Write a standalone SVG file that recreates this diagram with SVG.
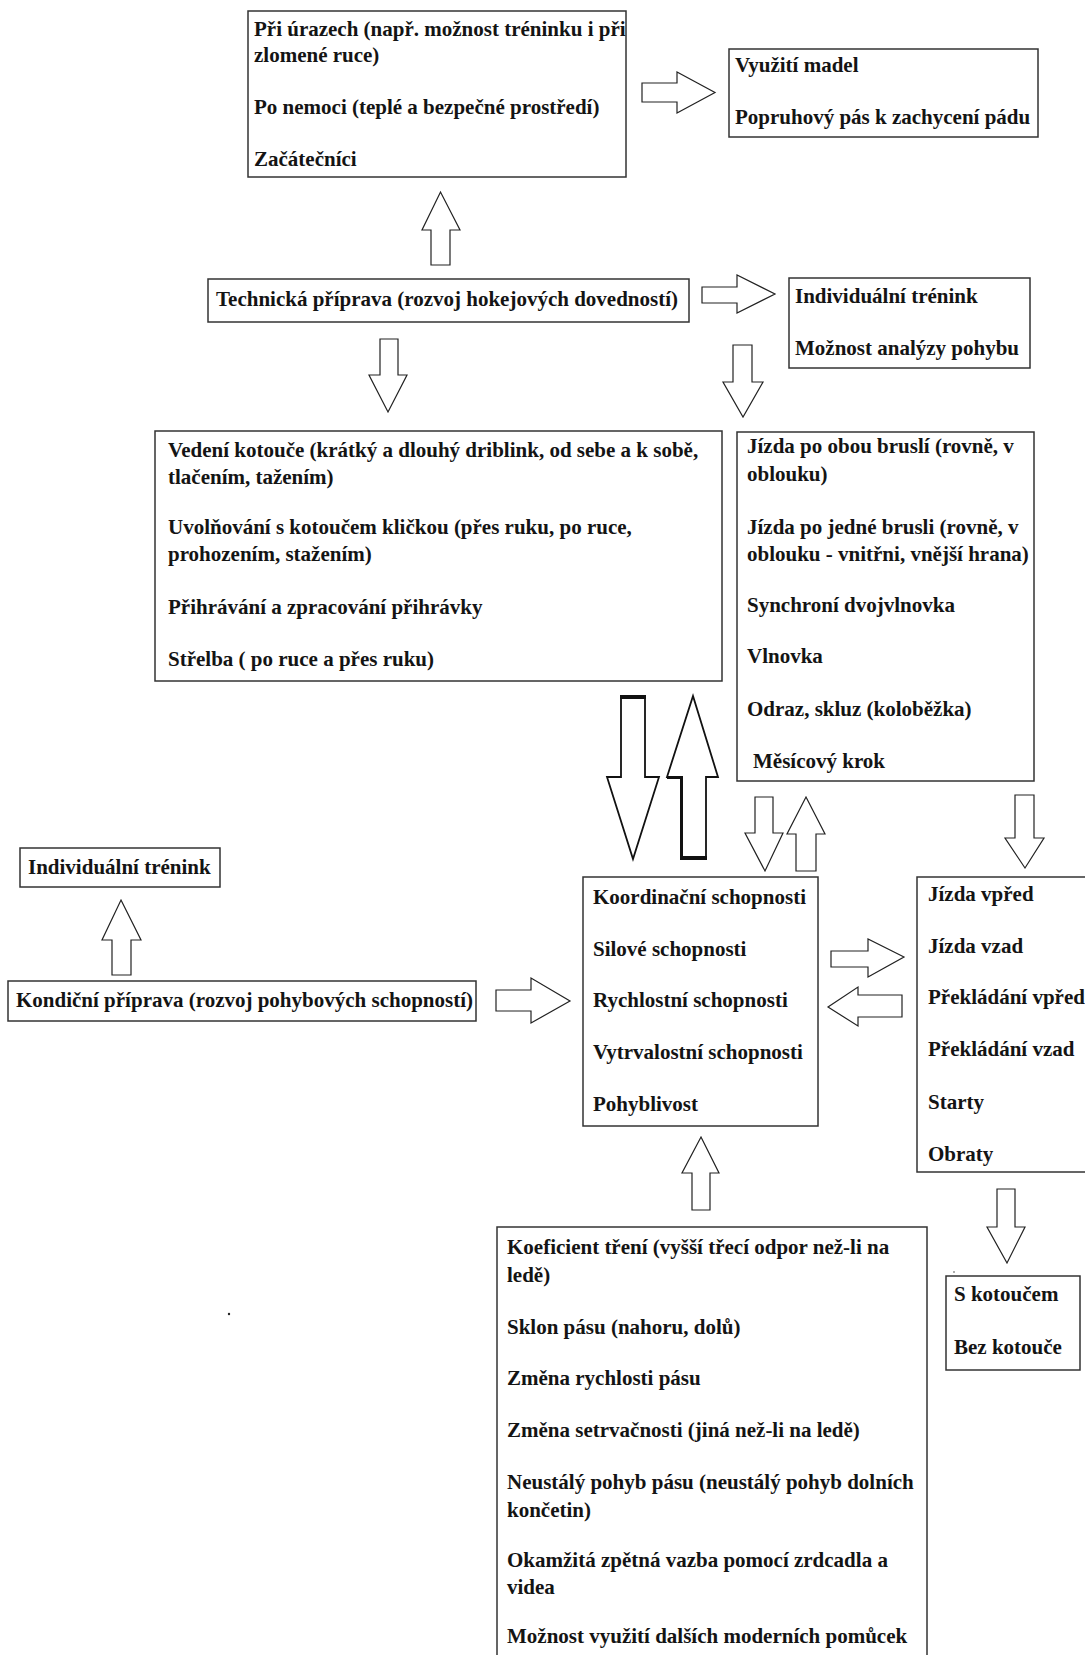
<svg xmlns="http://www.w3.org/2000/svg" width="1085" height="1655" viewBox="0 0 1085 1655">
<style>
.box{fill:#fff;stroke:#333;stroke-width:1.5}
.t{font-family:"Liberation Serif","Times New Roman",serif;font-weight:bold;font-size:21px;fill:#141414}
.arr{fill:#fff;stroke:#222;stroke-width:1.2;stroke-linejoin:miter}
.big{fill:#fff;stroke:#111;stroke-width:1.8}
.thick{stroke:#111;fill:none}
</style>
<rect x="0" y="0" width="1085" height="1655" fill="#fff"/>
<g id="connectors">
<polygon class="arr" points="642,83 677,83 677,72 715,92.5 677,113 677,102 642,102"/>
<polygon class="arr" points="431,265 431,230 422,230 440.5,192 460,230 450,230 450,265"/>
<polygon class="arr" points="702,287 737,287 737,275 775,294 737,313 737,303 702,303"/>
<polygon class="arr" points="380,339 398,339 398,375 407,375 388,412 369,375 380,375"/>
<polygon class="arr" points="733,345 752,345 752,382 763,382 743,417 723,382 733,382"/>
<polygon class="big" points="621,696 645,696 645,777 659,777 633,859 607,777 621,777"/>
<line class="thick" x1="620" y1="697" x2="646" y2="697" stroke-width="4"/>
<polygon class="big" points="693,696 718,777 706,777 706,859 681,859 681,777 667,777"/>
<line class="thick" x1="680" y1="858" x2="707" y2="858" stroke-width="4"/>
<polyline class="thick" points="667,777.5 681.5,777.5 681.5,859" stroke-width="3"/>
<polygon class="arr" points="755,797 773,797 773,833 783,833 765,871 745,833 755,833"/>
<polygon class="arr" points="806,797 825,834 816,834 816,871 796,871 796,834 787,834"/>
<polygon class="arr" points="1015,795 1034,795 1034,838 1044,838 1025,868 1005,838 1015,838"/>
<polygon class="arr" points="831,951 868,951 868,939 904,957 868,977 868,967 831,967"/>
<polygon class="arr" points="902,995 858,995 858,987 828,1007 858,1026 858,1017 902,1017"/>
<polygon class="arr" points="997,1189 1015,1189 1015,1227 1025,1227 1007,1263 987,1227 997,1227"/>
<polygon class="arr" points="701,1137 719,1173 710,1173 710,1210 692,1210 692,1173 682,1173"/>
<polygon class="arr" points="496,990 531,990 531,978 570,1001 531,1023 531,1011 496,1011"/>
<polygon class="arr" points="121,900 141,940 131,940 131,975 112,975 112,940 102,940"/>
</g>
<g id="n-urazy">
<rect class="box" x="248" y="11" width="378" height="166"/>
<text class="t" x="254" y="36">Při úrazech (např. možnost tréninku i při</text>
<text class="t" x="254" y="62">zlomené ruce)</text>
<text class="t" x="254" y="114">Po nemoci (teplé a bezpečné prostředí)</text>
<text class="t" x="254" y="166">Začátečníci</text>
</g>
<g id="n-madla">
<rect class="box" x="729" y="49" width="309" height="88"/>
<text class="t" x="735" y="72">Využití madel</text>
<text class="t" x="735" y="124">Popruhový pás k zachycení pádu</text>
</g>
<g id="n-technicka">
<rect class="box" x="208" y="279" width="481" height="43"/>
<text class="t" x="216" y="306">Technická příprava (rozvoj hokejových dovedností)</text>
</g>
<g id="n-individualni-1">
<rect class="box" x="789" y="278" width="241" height="90"/>
<text class="t" x="795" y="303">Individuální trénink</text>
<text class="t" x="795" y="355">Možnost analýzy pohybu</text>
</g>
<g id="n-kotouc">
<rect class="box" x="155" y="431" width="567" height="250"/>
<text class="t" x="168" y="457">Vedení kotouče (krátký a dlouhý driblink, od sebe a k sobě,</text>
<text class="t" x="168" y="484">tlačením, tažením)</text>
<text class="t" x="168" y="534">Uvolňování s kotoučem kličkou (přes ruku, po ruce,</text>
<text class="t" x="168" y="561">prohozením, stažením)</text>
<text class="t" x="168" y="614">Přihrávání a zpracování přihrávky</text>
<text class="t" x="168" y="666">Střelba ( po ruce a přes ruku)</text>
</g>
<g id="n-jizda">
<rect class="box" x="737" y="432" width="297" height="349"/>
<text class="t" x="747" y="453">Jízda po obou bruslí (rovně, v</text>
<text class="t" x="747" y="481">oblouku)</text>
<text class="t" x="747" y="534">Jízda po jedné brusli (rovně, v</text>
<text class="t" x="747" y="561">oblouku - vnitřni, vnější hrana)</text>
<text class="t" x="747" y="612">Synchroní dvojvlnovka</text>
<text class="t" x="747" y="663">Vlnovka</text>
<text class="t" x="747" y="716">Odraz, skluz (koloběžka)</text>
<text class="t" x="753" y="768">Měsícový krok</text>
</g>
<g id="n-individualni-2">
<rect class="box" x="20" y="848" width="200" height="39"/>
<text class="t" x="28" y="874">Individuální trénink</text>
</g>
<g id="n-kondicni">
<rect class="box" x="8" y="981" width="468" height="40"/>
<text class="t" x="16" y="1007">Kondiční příprava (rozvoj pohybových schopností)</text>
</g>
<g id="n-schopnosti">
<rect class="box" x="583" y="877" width="235" height="249"/>
<text class="t" x="593" y="904">Koordinační schopnosti</text>
<text class="t" x="593" y="956">Silové schopnosti</text>
<text class="t" x="593" y="1007">Rychlostní schopnosti</text>
<text class="t" x="593" y="1059">Vytrvalostní schopnosti</text>
<text class="t" x="593" y="1111">Pohyblivost</text>
</g>
<g id="n-smery">
<rect class="box" x="917" y="877" width="200" height="295"/>
<text class="t" x="928" y="901">Jízda vpřed</text>
<text class="t" x="928" y="953">Jízda vzad</text>
<text class="t" x="928" y="1004">Překládání vpřed</text>
<text class="t" x="928" y="1056">Překládání vzad</text>
<text class="t" x="928" y="1109">Starty</text>
<text class="t" x="928" y="1161">Obraty</text>
</g>
<g id="n-kotoucem">
<rect class="box" x="946" y="1276" width="134" height="94"/>
<text class="t" x="954" y="1301">S kotoučem</text>
<text class="t" x="954" y="1354">Bez kotouče</text>
</g>
<g id="n-pas">
<rect class="box" x="497" y="1227" width="430" height="440"/>
<text class="t" x="507" y="1254">Koeficient tření (vyšší třecí odpor než-li na</text>
<text class="t" x="507" y="1282">ledě)</text>
<text class="t" x="507" y="1334">Sklon pásu (nahoru, dolů)</text>
<text class="t" x="507" y="1385">Změna rychlosti pásu</text>
<text class="t" x="507" y="1437">Změna setrvačnosti (jiná než-li na ledě)</text>
<text class="t" x="507" y="1489">Neustálý pohyb pásu (neustálý pohyb dolních</text>
<text class="t" x="507" y="1517">končetin)</text>
<text class="t" x="507" y="1567">Okamžitá zpětná vazba pomocí zrdcadla a</text>
<text class="t" x="507" y="1594">videa</text>
<text class="t" x="507" y="1643">Možnost využití dalších moderních pomůcek</text>
</g>
<circle cx="229" cy="1314" r="1.2" fill="#222"/>
<circle cx="954" cy="1272" r="0.8" fill="#444"/>
</svg>
